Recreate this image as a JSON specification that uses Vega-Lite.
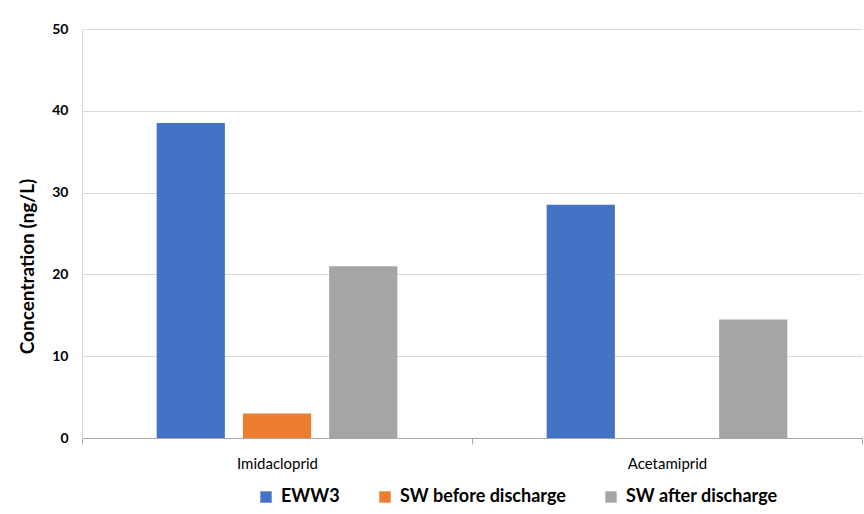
{
  "$schema": "https://vega.github.io/schema/vega-lite/v6.json",
  "autosize": "none",
  "width": 780,
  "height": 409,
  "padding": {"left": 82, "top": 29, "right": 2, "bottom": 76},
  "background": "white",
  "data": {
    "values": [
      {"pesticide": "Imidacloprid", "sample": "EWW3", "conc": 38.5},
      {"pesticide": "Imidacloprid", "sample": "SW before discharge", "conc": 3.0},
      {"pesticide": "Imidacloprid", "sample": "SW after discharge", "conc": 21.0},
      {"pesticide": "Acetamiprid", "sample": "EWW3", "conc": 28.5},
      {"pesticide": "Acetamiprid", "sample": "SW before discharge", "conc": 0},
      {"pesticide": "Acetamiprid", "sample": "SW after discharge", "conc": 14.5}
    ]
  },
  "mark": {"type": "bar"},
  "encoding": {
    "x": {
      "field": "pesticide", "type": "nominal", "sort": ["Imidacloprid", "Acetamiprid"],
      "scale": {"paddingInner": 0, "paddingOuter": 0},
      "axis": {
        "title": null, "labelAngle": 0, "labelFont": "Lato", "labelFontSize": 15,
        "labelColor": "#000000", "labelPadding": 12, "tickBand": "extent", "tickExtra": true,
        "tickColor": "#a6a6a6", "tickSize": 6, "domainColor": "#a6a6a6", "grid": false
      }
    },
    "xOffset": {
      "field": "sample", "type": "nominal",
      "sort": ["EWW3", "SW before discharge", "SW after discharge"],
      "scale": {"paddingInner": 0.209, "paddingOuter": 0.866}
    },
    "y": {
      "field": "conc", "type": "quantitative",
      "scale": {"domain": [0, 50]},
      "axis": {
        "title": "Concentration (ng/L)", "titleFont": "Lato", "titleFontSize": 19,
        "titleFontWeight": "bold", "titleColor": "#000000", "titlePadding": 14, "titleY": 237,
        "values": [0, 10, 20, 30, 40, 50], "labelFont": "Lato", "labelFontSize": 14,
        "labelFontWeight": "bold", "labelColor": "#000000", "labelPadding": 14,
        "ticks": false, "domainColor": "#d9d9d9", "gridColor": "#d9d9d9"
      }
    },
    "color": {
      "field": "sample", "type": "nominal",
      "sort": ["EWW3", "SW before discharge", "SW after discharge"],
      "scale": {"domain": ["EWW3", "SW before discharge", "SW after discharge"], "range": ["#4472C4", "#ED7D31", "#A5A5A5"]},
      "legend": {
        "title": null, "orient": "none", "direction": "horizontal",
        "legendX": 175, "legendY": 459, "symbolType": "square", "symbolSize": 130,
        "symbolStrokeWidth": 0, "labelFont": "Lato", "labelFontSize": 18, "labelFontWeight": "bold",
        "labelColor": "#000000", "columnPadding": 36, "labelOffset": 6, "labelLimit": 400
      }
    }
  },
  "config": {"view": {"stroke": null}}
}
